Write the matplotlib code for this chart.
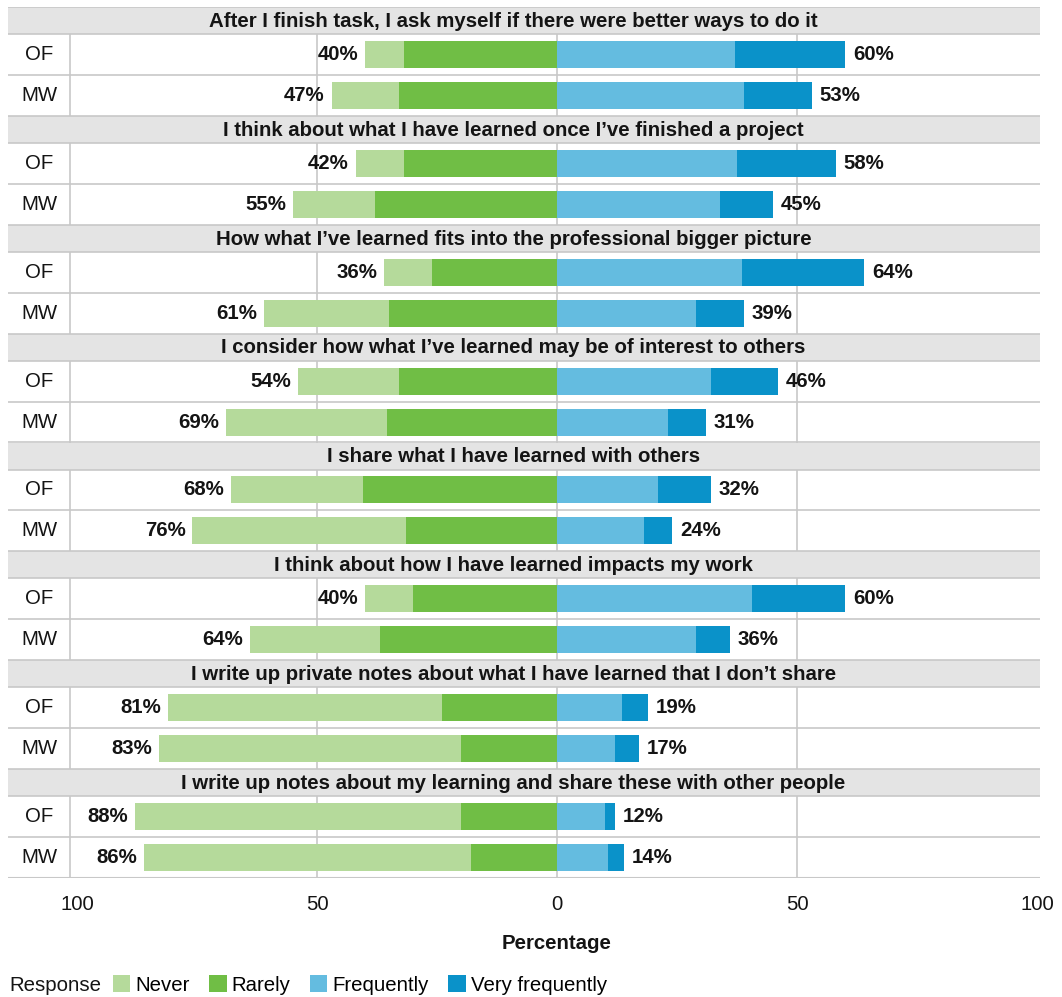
import matplotlib.pyplot as plt
from matplotlib.patches import Rectangle, Patch

plt.rcParams['font.family'] = ['Liberation Sans', 'DejaVu Sans']

questions = [
    "After I finish task, I ask myself if there were better ways to do it",
    "I think about what I have learned once I\u2019ve finished a project",
    "How what I\u2019ve learned fits into the professional bigger picture",
    "I consider how what I\u2019ve learned may be of interest to others",
    "I share what I have learned with others",
    "I think about how I have learned impacts my work",
    "I write up private notes about what I have learned that I don\u2019t share",
    "I write up notes about my learning and share these with other people",
]
groups = ["OF", "MW"]
responses = ["Never", "Rarely", "Frequently", "Very frequently"]

# one pair per question: (OF, MW)
never = [(8, 14), (10, 17), (10, 26), (21, 33.5), (27.5, 44.5), (10, 27), (57, 63), (68, 68)]
rarely = [(32, 33), (32, 38), (26, 35), (33, 35.5), (40.5, 31.5), (30, 37), (24, 20), (20, 18)]
frequently = [(37, 39), (37.5, 34), (38.5, 29), (32, 23), (21, 18), (40.5, 29), (13.5, 12), (10, 10.5)]
very_freq = [(23, 14), (20.5, 11), (25.5, 10), (14, 8), (11, 6), (19.5, 7), (5.5, 5), (2, 3.5)]
neg_labels = [("40%", "47%"), ("42%", "55%"), ("36%", "61%"), ("54%", "69%"),
              ("68%", "76%"), ("40%", "64%"), ("81%", "83%"), ("88%", "86%")]
pos_labels = [("60%", "53%"), ("58%", "45%"), ("64%", "39%"), ("46%", "31%"),
              ("32%", "24%"), ("60%", "36%"), ("19%", "17%"), ("12%", "14%")]

colors = ["#b5da9b", "#70be45", "#64bce0", "#0a92c9"]
grid_col = "#c8c8c8"
strip_col = "#e4e4e4"
txt_col = "#141414"
fs = 14.7

W, H = 1062, 997
fig = plt.figure(figsize=(W / 100, H / 100), dpi=100)
ax = fig.add_axes([8 / W, (H - 878) / H, (1040 - 8) / W, (878 - 7) / H])

xmin, xmax = -114.4, 100.6
panel_left = -101.5
strip_h = 0.66
panel_h = strip_h + 2
bar_h = 0.66
n = len(questions)

for p, q in enumerate(questions):
    y0 = p * panel_h
    # strip
    ax.add_patch(Rectangle((xmin, y0), xmax - xmin, strip_h, facecolor=strip_col,
                           edgecolor='none', zorder=4))
    ax.text((xmin + xmax) / 2 - 2.2, y0 + strip_h / 2 + 0.02, q, ha='center', va='center',
            fontsize=fs, fontweight='bold', color=txt_col, zorder=5)
    for g, grp in enumerate(groups):
        yc = y0 + strip_h + 0.5 + g
        nv, rr = never[p][g], rarely[p][g]
        fr, vf = frequently[p][g], very_freq[p][g]
        ax.barh(yc, -rr, left=0, height=bar_h, color=colors[1], zorder=3)
        ax.barh(yc, -nv, left=-rr, height=bar_h, color=colors[0], zorder=3)
        ax.barh(yc, fr, left=0, height=bar_h, color=colors[2], zorder=3)
        ax.barh(yc, vf, left=fr, height=bar_h, color=colors[3], zorder=3)
        ax.text(-(nv + rr) - 1.4, yc, neg_labels[p][g], ha='right', va='center',
                fontsize=fs, fontweight='bold', color=txt_col, zorder=5)
        ax.text(fr + vf + 1.6, yc, pos_labels[p][g], ha='left', va='center',
                fontsize=fs, fontweight='bold', color=txt_col, zorder=5)
        ax.text((xmin + panel_left) / 2, yc, grp, ha='center', va='center',
                fontsize=fs, color=txt_col, zorder=5)
        ax.axhline(y0 + strip_h + g, color=grid_col, lw=1.2, zorder=4.5)
    ax.axhline(y0, color=grid_col, lw=1.2, zorder=4.5)

for gx in (-50, 0, 50):
    ax.axvline(gx, color=grid_col, lw=1.2, zorder=1)
ax.axvline(panel_left, color=grid_col, lw=1.2, zorder=1)
ax.axhline(n * panel_h, color=grid_col, lw=1.5, zorder=4.5)

ax.set_xlim(xmin, xmax)
ax.set_ylim(n * panel_h, 0)
ax.set_yticks([])
ax.set_xticks([-100, -50, 0, 50, 100])
ax.set_xticklabels(["100", "50", "0", "50", "100"], fontsize=fs, color=txt_col)
ax.tick_params(axis='x', length=0, pad=12)
for s in ax.spines.values():
    s.set_visible(False)

fig.text(557 / W, 1 - 943 / H, "Percentage", ha='center', va='center',
         fontsize=fs, fontweight='bold', color=txt_col)

fig.text(9 / W, 1 - 985 / H, "Response", ha='left', va='center', fontsize=fs,
         color=txt_col)
handles = [Patch(facecolor=c, edgecolor='none') for c in colors]
fig.legend(handles, responses, loc='center left', bbox_to_anchor=(113 / W, 1 - 985 / H),
           ncol=4, frameon=False, fontsize=fs, handlelength=0.85, handleheight=0.85,
           handletextpad=0.25, columnspacing=0.95, borderaxespad=0, borderpad=0)

fig.savefig("out.png", dpi=100)
